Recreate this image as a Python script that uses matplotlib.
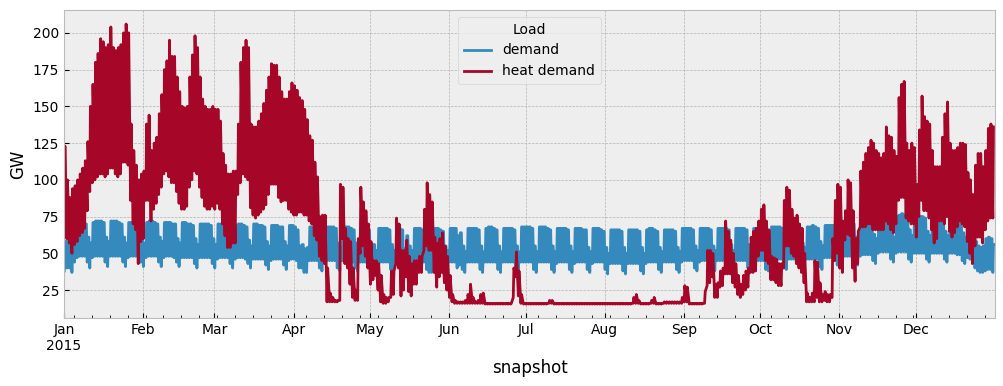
import numpy as np
import matplotlib
matplotlib.use("Agg")
import matplotlib.pyplot as plt
import matplotlib.dates as mdates

# daily values (GW), one entry per day of 2015
# electricity demand: daytime plateau and night-time low
demand_high = [
    # Jan
    58, 64, 60, 57, 70, 71, 71, 71, 70, 61, 57, 71, 72, 72, 72, 71, 61, 58,
    72, 72, 72, 71, 70, 61, 57, 71, 71, 72, 72, 70, 61,
    # Feb
    57, 71, 72, 72, 71, 70, 61, 58, 71, 71, 71, 70, 70, 60, 57, 71, 71, 70,
    70, 69, 60, 56, 70, 70, 70, 70, 69, 60,
    # Mar
    56, 70, 70, 70, 69, 69, 59, 56, 69, 70, 70, 69, 68, 59, 55, 70, 70, 69,
    69, 68, 58, 55, 69, 69, 69, 68, 68, 58, 55, 69, 69,
    # Apr
    68, 66, 55, 56, 53, 54, 68, 68, 68, 67, 57, 54, 68, 68, 68, 68, 67, 57,
    54, 68, 68, 68, 67, 66, 57, 53, 67, 67, 67, 66,
    # May
    54, 56, 52, 67, 67, 67, 67, 66, 56, 52, 67, 67, 66, 53, 62, 55, 52, 67,
    67, 67, 66, 66, 55, 52, 53, 67, 67, 66, 65, 55, 52,
    # Jun
    67, 67, 67, 62, 64, 55, 51, 67, 67, 67, 67, 66, 55, 51, 67, 68, 68, 67,
    66, 55, 51, 67, 67, 67, 67, 66, 55, 51, 68, 68,
    # Jul
    68, 68, 67, 55, 51, 68, 68, 68, 67, 66, 55, 51, 67, 67, 67, 67, 66, 55,
    51, 67, 67, 67, 66, 66, 54, 51, 67, 67, 67, 66, 65,
    # Aug
    54, 50, 66, 66, 66, 66, 65, 54, 50, 66, 66, 66, 66, 65, 54, 50, 66, 67,
    67, 66, 65, 54, 51, 66, 66, 66, 66, 65, 54, 51, 67,
    # Sep
    67, 67, 67, 66, 55, 52, 67, 67, 67, 67, 66, 55, 52, 67, 67, 67, 67, 66,
    56, 52, 67, 67, 67, 67, 66, 56, 53, 67, 67, 67,
    # Oct
    67, 66, 54, 53, 68, 68, 68, 68, 67, 57, 54, 68, 68, 68, 68, 67, 57, 54,
    68, 68, 69, 68, 67, 58, 55, 69, 69, 69, 69, 68, 59,
    # Nov
    56, 71, 71, 71, 71, 70, 61, 58, 72, 73, 73, 72, 71, 63, 60, 74, 74, 74,
    74, 73, 64, 61, 75, 76, 77, 76, 75, 66, 62, 75,
    # Dec
    75, 75, 75, 74, 65, 62, 75, 75, 75, 74, 74, 65, 62, 74, 74, 74, 73, 72,
    64, 61, 68, 67, 64, 58, 55, 54, 55, 60, 61, 60, 56,
]
demand_low = [
    # Jan
    38, 40, 40, 37, 44, 47, 48, 48, 48, 44, 40, 47, 48, 48, 48, 48, 44, 41,
    48, 48, 48, 48, 48, 44, 41, 47, 48, 48, 48, 48, 44,
    # Feb
    41, 47, 48, 48, 48, 48, 44, 41, 47, 48, 48, 48, 47, 44, 41, 47, 47, 47,
    47, 47, 43, 40, 47, 47, 47, 47, 47, 43,
    # Mar
    40, 46, 47, 47, 47, 47, 43, 40, 46, 47, 47, 47, 46, 43, 40, 46, 46, 46,
    46, 46, 42, 39, 45, 46, 46, 46, 46, 42, 39, 45, 46,
    # Apr
    46, 45, 40, 40, 37, 37, 45, 45, 45, 45, 40, 38, 45, 45, 45, 45, 45, 40,
    38, 45, 45, 45, 45, 44, 40, 38, 44, 44, 44, 44,
    # May
    38, 39, 37, 44, 44, 44, 44, 44, 39, 37, 44, 44, 44, 38, 40, 39, 37, 44,
    44, 44, 44, 44, 39, 37, 37, 44, 44, 44, 44, 39, 37,
    # Jun
    44, 44, 44, 40, 42, 39, 37, 44, 44, 44, 44, 44, 39, 37, 44, 44, 44, 44,
    44, 39, 37, 44, 44, 44, 44, 44, 39, 37, 44, 44,
    # Jul
    44, 44, 44, 39, 37, 44, 44, 44, 44, 44, 39, 37, 43, 44, 44, 44, 44, 39,
    37, 43, 44, 44, 44, 44, 39, 37, 43, 44, 44, 44, 44,
    # Aug
    39, 36, 43, 43, 43, 43, 43, 38, 36, 43, 43, 43, 43, 43, 38, 36, 43, 44,
    44, 44, 44, 39, 37, 44, 44, 44, 44, 44, 39, 37, 44,
    # Sep
    45, 45, 45, 45, 40, 38, 44, 45, 45, 45, 45, 40, 38, 45, 45, 45, 45, 45,
    40, 38, 45, 45, 45, 45, 45, 40, 38, 45, 45, 45,
    # Oct
    45, 45, 39, 38, 46, 46, 46, 46, 46, 41, 39, 46, 46, 46, 46, 46, 41, 39,
    46, 46, 46, 46, 46, 41, 39, 47, 47, 47, 47, 47, 42,
    # Nov
    40, 47, 48, 48, 48, 48, 44, 42, 48, 49, 49, 49, 49, 45, 43, 50, 51, 51,
    51, 51, 46, 44, 50, 51, 51, 51, 51, 46, 44, 50,
    # Dec
    50, 50, 50, 50, 46, 44, 50, 50, 50, 50, 50, 46, 44, 50, 50, 50, 49, 49,
    45, 43, 47, 46, 45, 40, 38, 37, 37, 38, 39, 39, 37,
]

# heat demand: daily maximum and minimum
heat_high = [
    # Jan
    123, 100, 88, 94, 96, 100, 104, 108, 113, 126, 150, 165, 180, 186, 196,
    194, 190, 192, 204, 190, 188, 190, 192, 200, 206, 200, 138, 120, 110,
    100, 104,
    # Feb
    106, 138, 144, 120, 125, 129, 145, 158, 175, 181, 195, 184, 184, 170,
    160, 150, 149, 150, 170, 185, 198, 190, 170, 155, 150, 148, 148, 150,
    # Mar
    148, 148, 140, 118, 110, 104, 104, 106, 106, 138, 180, 190, 195, 190,
    138, 136, 136, 140, 145, 152, 161, 170, 179, 178, 178, 170, 160, 155,
    155, 160, 166,
    # Apr
    164, 161, 156, 154, 148, 141, 130, 127, 112, 102, 75, 76, 76, 40, 23,
    20, 18, 18, 97, 95, 67, 60, 58, 40, 25, 60, 95, 85, 79, 70,
    # May
    58, 45, 45, 43, 35, 22, 20, 20, 38, 38, 74, 70, 52, 52, 59, 48, 43, 45,
    45, 48, 48, 80, 98, 90, 85, 61, 57, 60, 64, 55, 48,
    # Jun
    35, 22, 18, 17, 17, 17, 18, 22, 29, 20, 17, 18, 22, 23, 16, 16, 16, 16,
    16, 16, 16, 16, 16, 16, 16, 40, 51, 38, 22, 16,
    # Jul
    16, 16, 16, 16, 16, 16, 16, 16, 16, 18, 18, 16, 16, 16, 16, 16, 16, 16,
    16, 16, 16, 16, 16, 16, 16, 16, 16, 16, 16, 16, 16,
    # Aug
    16, 16, 16, 16, 16, 16, 16, 16, 16, 16, 16, 20, 22, 18, 16, 16, 16, 16,
    18, 20, 16, 16, 16, 17, 17, 17, 17, 17, 17, 17, 20,
    # Sep
    28, 27, 16, 16, 16, 16, 16, 16, 24, 52, 52, 50, 29, 30, 38, 40, 72, 65,
    59, 50, 43, 35, 29, 35, 38, 40, 61, 65, 67, 72,
    # Oct
    80, 83, 72, 66, 48, 47, 46, 43, 43, 86, 95, 93, 80, 74, 76, 70, 67, 50,
    23, 20, 23, 45, 44, 30, 22, 24, 22, 22, 60, 86, 97,
    # Nov
    95, 72, 79, 100, 98, 79, 60, 65, 106, 112, 118, 122, 127, 125, 120, 118,
    115, 118, 136, 130, 129, 120, 116, 156, 165, 167, 125, 120, 125, 122,
    # Dec
    97, 134, 157, 143, 140, 138, 120, 109, 109, 109, 129, 145, 153, 125, 120,
    120, 122, 125, 125, 124, 105, 100, 90, 110, 118, 118, 109, 120, 135, 138,
    136,
]
heat_low = [
    # Jan
    66, 60, 57, 50, 56, 58, 62, 64, 67, 79, 92, 98, 100, 102, 104, 104, 102,
    104, 108, 108, 104, 102, 104, 112, 112, 110, 86, 70, 66, 43, 58,
    # Feb
    60, 86, 86, 72, 80, 84, 90, 95, 104, 106, 102, 98, 98, 92, 84, 80, 80,
    82, 95, 100, 106, 104, 95, 88, 82, 80, 80, 82,
    # Mar
    80, 84, 80, 70, 62, 54, 54, 57, 57, 90, 98, 104, 102, 100, 81, 76, 74,
    76, 78, 80, 83, 90, 97, 97, 97, 88, 85, 86, 86, 80, 78,
    # Apr
    76, 76, 78, 78, 76, 76, 72, 70, 62, 59, 48, 45, 43, 17, 17, 17, 17, 17,
    18, 60, 43, 40, 29, 20, 18, 18, 50, 55, 48, 40,
    # May
    29, 32, 35, 25, 17, 16, 16, 17, 20, 22, 43, 40, 21, 25, 34, 24, 21, 29,
    29, 37, 37, 52, 55, 52, 52, 37, 27, 34, 37, 30, 25,
    # Jun
    20, 17, 16, 16, 16, 16, 16, 16, 16, 16, 16, 16, 16, 16, 15.5, 15.5, 15.5,
    15.5, 15.5, 15.5, 15.5, 15.5, 15.5, 15.5, 15.5, 20, 34, 21, 16, 15.5,
    # Jul
    15.5, 15.5, 15.5, 15.5, 15.5, 15.5, 15.5, 15.5, 15.5, 16, 16, 15.5, 15.5,
    15.5, 15.5, 15.5, 15.5, 15.5, 15.5, 15.5, 15.5, 15.5, 15.5, 15.5, 15.5,
    15.5, 15.5, 15.5, 15.5, 15.5, 15.5,
    # Aug
    15.5, 15.5, 15.5, 15.5, 15.5, 15.5, 15.5, 15.5, 15.5, 15.5, 15.5, 16, 16,
    16, 15.5, 15.5, 15.5, 15.5, 16, 16, 15.5, 15.5, 15.5, 16, 16, 16, 16, 16,
    16, 16, 16,
    # Sep
    17, 17, 15.5, 15.5, 15.5, 15.5, 15.5, 15.5, 16, 28, 30, 34, 20, 20, 27,
    28, 36, 36, 36, 30, 27, 22, 20, 22, 25, 27, 37, 37, 38, 48,
    # Oct
    52, 52, 45, 43, 32, 32, 30, 28, 28, 40, 55, 55, 50, 48, 43, 40, 37, 30,
    17, 17, 17, 17, 20, 17, 17, 18, 17, 17, 20, 45, 50,
    # Nov
    40, 37, 59, 63, 62, 40, 31, 43, 68, 68, 68, 70, 70, 66, 66, 66, 66, 66,
    72, 70, 66, 64, 70, 86, 88, 88, 74, 72, 70, 70,
    # Dec
    61, 75, 86, 79, 79, 74, 66, 57, 60, 72, 72, 70, 75, 65, 61, 64, 68, 72,
    70, 68, 58, 50, 43, 55, 61, 61, 57, 66, 72, 74, 74,
]

month_names = ["Jan", "Feb", "Mar", "Apr", "May", "Jun",
               "Jul", "Aug", "Sep", "Oct", "Nov", "Dec"]

days = np.arange("2015-01-01", "2016-01-01", dtype="datetime64[D]").astype("datetime64[h]")

# demand: low at night, plateau from morning to evening
t_dem = (days[:, None] + np.array([3, 9, 19], dtype="timedelta64[h]")).ravel()
y_dem = np.column_stack([demand_low, demand_high, demand_high]).ravel()

# heat: low at night, peak in the morning
t_heat = (days[:, None] + np.array([3, 9], dtype="timedelta64[h]")).ravel()
y_heat = np.column_stack([heat_low, heat_high]).ravel()

plt.style.use("bmh")
fig, ax = plt.subplots(figsize=(10.04, 3.86), dpi=100)
fig.subplots_adjust(left=0.0637, right=0.991, bottom=0.176, top=0.974)

ax.plot(t_dem, y_dem, label="demand")
ax.plot(t_heat, y_heat, label="heat demand")

ax.set_xlim(np.datetime64("2015-01-01T00"), np.datetime64("2015-12-31T23"))
ax.xaxis.set_major_locator(mdates.MonthLocator())
ax.xaxis.set_minor_locator(mdates.WeekdayLocator(byweekday=mdates.MO))


def fmt(x, pos):
    d = mdates.num2date(x)
    lab = month_names[d.month - 1]
    if d.month == 1:
        lab += "\n2015"
    return lab


ax.xaxis.set_major_formatter(plt.FuncFormatter(fmt))
ax.xaxis.set_minor_formatter(plt.NullFormatter())

ax.set_ylabel("GW")
ax.set_xlabel("snapshot")
ax.legend(title="Load", loc="upper center")

fig.savefig("out.png", dpi=100)
